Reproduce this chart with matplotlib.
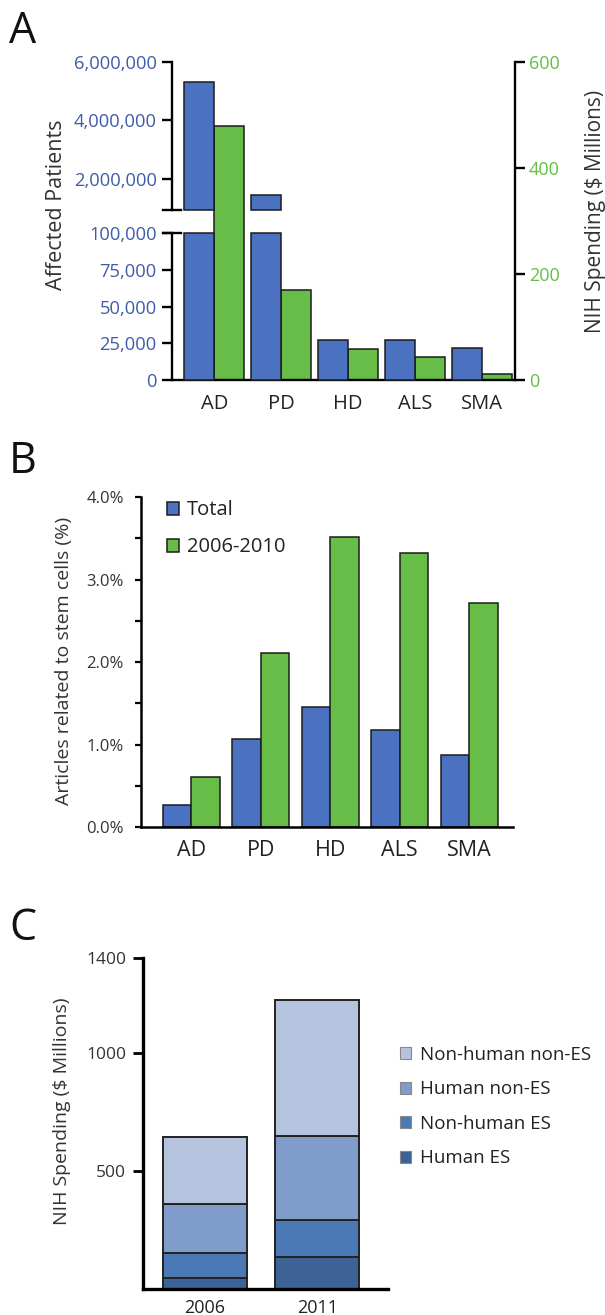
import matplotlib
matplotlib.use('Agg')
import matplotlib.pyplot as plt
import numpy as np
from matplotlib.ticker import FuncFormatter, MultipleLocator

plt.rcParams['font.family'] = ['Open Sans', 'DejaVu Sans']

# ---- data ----
diseases = ['AD', 'PD', 'HD', 'ALS', 'SMA']
patients = [5300000, 1450000, 27000, 27000, 22000]
nih_spending = [479, 170, 58, 44, 11]

pct_total = [0.27, 1.07, 1.45, 1.17, 0.87]
pct_recent = [0.61, 2.11, 3.51, 3.32, 2.71]

years = ['2006', '2011']
stem_types = ['Human ES', 'Non-human ES', 'Human non-ES', 'Non-human non-ES']
human_es = [47, 135]
nonhuman_es = [105, 157]
human_non_es = [208, 356]
nonhuman_non_es = [284, 574]

BLUE = '#4a72c0'
GREEN = '#67bd47'
BLUE_TXT = '#3f5ca8'
GREEN_TXT = '#62bf45'
EDGE = '#1c1c1c'
C_COLORS = ['#3c6296', '#4b79b5', '#7f9cca', '#b5c3de']

W, H = 605, 1315
fig = plt.figure(figsize=(W / 100, H / 100), dpi=100)


def px_axes(left, top, right, bottom):
    return fig.add_axes([left / W, 1 - bottom / H, (right - left) / W, (bottom - top) / H])


def style(ax, lw):
    for s in ax.spines.values():
        s.set_linewidth(lw)
        s.set_color('black')
    ax.spines['top'].set_visible(False)


# ---- panel A ----
x = np.arange(len(diseases))
bw = 0.45
patients = np.array(patients, dtype=float)

ax_r = px_axes(172, 62, 515, 380)
ax_r.bar(x + bw / 2, nih_spending, bw, color=GREEN, edgecolor=EDGE, linewidth=1.1)
ax_r.set_ylim(0, 600)
ax_r.set_xlim(-0.63, 4.49)
ax_r.yaxis.tick_right()
ax_r.set_yticks([0, 200, 400, 600])
ax_r.tick_params(axis='y', colors='black', labelcolor=GREEN_TXT, labelsize=13,
                 length=7, width=1.7, pad=3)
ax_r.set_xticks(x)
ax_r.set_xticklabels(diseases)
ax_r.tick_params(axis='x', length=0, pad=10, labelsize=14.5, labelcolor='#222222')
style(ax_r, 1.7)
ax_r.spines['left'].set_visible(False)

top_lo, top_hi = 0.94e6, 6e6
ax_t = px_axes(172, 62, 515, 210)
mask = patients > top_lo
ax_t.bar(x[mask] - bw / 2, np.minimum(patients[mask], top_hi) - top_lo, bw, bottom=top_lo,
         color=BLUE, edgecolor=EDGE, linewidth=1.1, clip_on=False)
ax_t.set_ylim(top_lo, top_hi)
ax_t.set_xlim(-0.63, 4.49)
ax_t.set_yticks([2e6, 4e6, 6e6])

ax_b = px_axes(172, 233, 515, 380)
ax_b.bar(x - bw / 2, np.minimum(patients, 1e5), bw, color=BLUE, edgecolor=EDGE,
         linewidth=1.1, clip_on=False)
ax_b.set_ylim(0, 1e5)
ax_b.set_xlim(-0.63, 4.49)
ax_b.set_yticks([0, 25000, 50000, 75000, 100000])

comma = FuncFormatter(lambda v, p: f'{v:,.0f}')
for ax in (ax_t, ax_b):
    ax.patch.set_visible(False)
    for s in ('top', 'right', 'bottom'):
        ax.spines[s].set_visible(False)
    ax.spines['left'].set_linewidth(1.7)
    ax.set_xticks([])
    ax.yaxis.set_major_formatter(comma)
    ax.tick_params(axis='y', labelcolor=BLUE_TXT, labelsize=13.2, length=7, width=1.7, pad=4)
# break marks
ax_t.plot([-0.025, 0.025], [0, 0], transform=ax_t.transAxes, color='black', lw=1.7, clip_on=False)
ax_b.plot([-0.025, 0.025], [1, 1], transform=ax_b.transAxes, color='black', lw=1.7, clip_on=False)

fig.text(57 / W, 1 - 205 / H, 'Affected Patients', rotation=90, ha='center', va='center',
         fontsize=15.5, color='#333333')
fig.text(596 / W, 1 - 211 / H, 'NIH Spending ($ Millions)', rotation=90, ha='center',
         va='center', fontsize=15, color='#333333')

# ---- panel B ----
axB = px_axes(141, 497, 513, 827)
bw2 = 0.41
axB.bar(x - bw2 / 2, pct_total, bw2, color=BLUE, edgecolor=EDGE, linewidth=1.1, label='Total')
axB.bar(x + bw2 / 2, pct_recent, bw2, color=GREEN, edgecolor=EDGE, linewidth=1.1,
        label='2006-2010')
axB.set_ylim(0, 4.0)
axB.set_xlim(-0.72, 4.63)
axB.yaxis.set_major_locator(MultipleLocator(0.5))
axB.yaxis.set_major_formatter(FuncFormatter(lambda v, p: f'{v:.1f}%' if abs(v - round(v)) < 1e-6 else ''))
axB.set_xticks(x)
axB.set_xticklabels(diseases)
axB.tick_params(axis='y', labelsize=12, length=4.5, width=1.6, pad=8, labelcolor='#333333')
axB.tick_params(axis='x', length=0, pad=9, labelsize=15.5, labelcolor='#222222')
style(axB, 1.8)
axB.spines['right'].set_visible(False)
axB.legend(loc='upper left', bbox_to_anchor=(0.02, 1.045), frameon=False, fontsize=14.5,
           handlelength=0.6, handleheight=0.6, handletextpad=0.4, labelspacing=0.85,
           labelcolor='#222222')
fig.text(64 / W, 1 - 661 / H, 'Articles related to stem cells (%)', rotation=90,
         ha='center', va='center', fontsize=14, color='#333333')

# ---- panel C ----
axC = px_axes(143, 958, 388, 1289)
xc = np.arange(len(years))
layers = [human_es, nonhuman_es, human_non_es, nonhuman_non_es]
bottom = np.zeros(len(years))
handles = []
for vals, name, col in zip(layers, stem_types, C_COLORS):
    h = axC.bar(xc, vals, 0.75, bottom=bottom, color=col, edgecolor='#222222',
                linewidth=1.4, label=name)
    handles.append(h)
    bottom += np.array(vals)
axC.set_ylim(0, 1400)
axC.set_xlim(-0.55, 1.63)
axC.set_yticks([500, 1000, 1400])
axC.set_xticks(xc)
axC.set_xticklabels(years)
axC.tick_params(axis='y', labelsize=12.5, length=7, width=2, pad=5, labelcolor='#333333')
axC.tick_params(axis='x', length=0, pad=7, labelsize=13, labelcolor='#222222')
style(axC, 2.4)
axC.spines['right'].set_visible(False)
leg = fig.legend(handles[::-1], stem_types[::-1], loc='upper left',
                 bbox_to_anchor=(383 / W, 1 - 1029 / H), frameon=False, fontsize=13.5,
                 handlelength=0.6, handleheight=0.6, handletextpad=0.5, labelspacing=0.88,
                 labelcolor='#222222')
for p in leg.get_patches():
    p.set_edgecolor('#888888')
    p.set_linewidth(0.8)
fig.text(62 / W, 1 - 1111 / H, 'NIH Spending ($ Millions)', rotation=90, ha='center',
         va='center', fontsize=14, color='#333333')

# ---- panel letters ----
for letter, base in (('A', 43), ('B', 473), ('C', 940)):
    fig.text(9 / W, 1 - base / H, letter, fontsize=31, va='baseline', ha='left', color='#111111')

fig.savefig('out.png', dpi=100)
